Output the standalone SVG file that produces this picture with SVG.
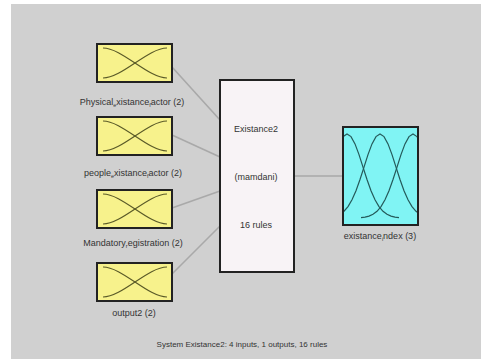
<svg xmlns="http://www.w3.org/2000/svg" width="481" height="359" viewBox="0 0 481 359">
<style>
.lbl{font-family:"Liberation Sans",Arial,sans-serif;font-size:9px;fill:#333;text-anchor:middle}
.cap{font-size:8px}
.sub{font-size:5.5px}
.inbox{fill:#f7f28c;stroke:#222;stroke-width:2}
.mfin{fill:none;stroke:#5a5a28;stroke-width:1.2}
.mfout{fill:none;stroke:#245a5a;stroke-width:1.2}
.conn{stroke:#a9a9a9;stroke-width:1.6;fill:none}
</style>
<defs>
<g id="inmf">
<path class="mfin" d="M103,48 C122,48 148,78 167,78"/>
<path class="mfin" d="M103,78 C122,78 148,48 167,48"/>
</g>
<polyline id="gauss" class="mfout" points="324,217.6 328,217.1 332,216.1 336,214.3 340,211.3 344,206.6 348,199.8 352,190.7 356,179.5 360,167.1 364,154.6 368,143.9 372,136.6 376,134 380,136.6 384,143.9 388,154.6 392,167.1 396,179.5 400,190.7 404,199.8 408,206.6 412,211.3 416,214.3 420,216.1 424,217.1 428,217.6"/>
<clipPath id="outclip"><rect x="344" y="128" width="73" height="96"/></clipPath>
</defs>
<rect x="0" y="0" width="481" height="359" fill="#ffffff"/>
<rect x="11" y="4" width="470" height="355" fill="#d0d0d0"/>

<g id="connectors">
<line class="conn" x1="172" y1="67" x2="220" y2="120"/>
<line class="conn" x1="172" y1="135" x2="220" y2="157"/>
<line class="conn" x1="172" y1="208" x2="220" y2="191"/>
<line class="conn" x1="172" y1="274" x2="220" y2="226"/>
<line class="conn" x1="294" y1="176" x2="343" y2="176"/>
</g>

<g id="input1">
<rect class="inbox" x="97" y="44" width="75" height="38"/>
<use href="#inmf"/>
<text class="lbl" x="132" y="105">Physical<tspan class="sub" dy="2">e</tspan><tspan dy="-2">xistance</tspan><tspan class="sub" dy="2">f</tspan><tspan dy="-2">actor (2)</tspan></text>
</g>
<g id="input2">
<rect class="inbox" x="97" y="117" width="75" height="38"/>
<use href="#inmf" transform="translate(0,73)"/>
<text class="lbl" x="133" y="176">people<tspan class="sub" dy="2">e</tspan><tspan dy="-2">xistance</tspan><tspan class="sub" dy="2">f</tspan><tspan dy="-2">actor (2)</tspan></text>
</g>
<g id="input3">
<rect class="inbox" x="97" y="190" width="75" height="38"/>
<use href="#inmf" transform="translate(0,146)"/>
<text class="lbl" x="133" y="246">Mandatory<tspan class="sub" dy="2">r</tspan><tspan dy="-2">egistration (2)</tspan></text>
</g>
<g id="input4">
<rect class="inbox" x="97" y="263" width="75" height="38"/>
<use href="#inmf" transform="translate(0,219)"/>
<text class="lbl" x="134" y="316">output2 (2)</text>
</g>

<g id="fis">
<rect x="220" y="80" width="74" height="192" fill="#f8f3f6" stroke="#222" stroke-width="2"/>
<text class="lbl" x="256" y="132">Existance2</text>
<text class="lbl" x="256" y="180">(mamdani)</text>
<text class="lbl" x="256" y="228">16 rules</text>
</g>

<g id="output1">
<rect x="343" y="127" width="75" height="98" fill="#80f4f4" stroke="#222" stroke-width="2"/>
<g clip-path="url(#outclip)">
<use href="#gauss" transform="translate(-29,0)"/>
<use href="#gauss" transform="translate(4,0)"/>
<use href="#gauss" transform="translate(37,0)"/>
</g>
<text class="lbl" x="380" y="239">existance<tspan class="sub" dy="2">i</tspan><tspan dy="-2">ndex (3)</tspan></text>
</g>

<text class="lbl cap" x="242" y="347">System Existance2: 4 inputs, 1 outputs, 16 rules</text>
</svg>
